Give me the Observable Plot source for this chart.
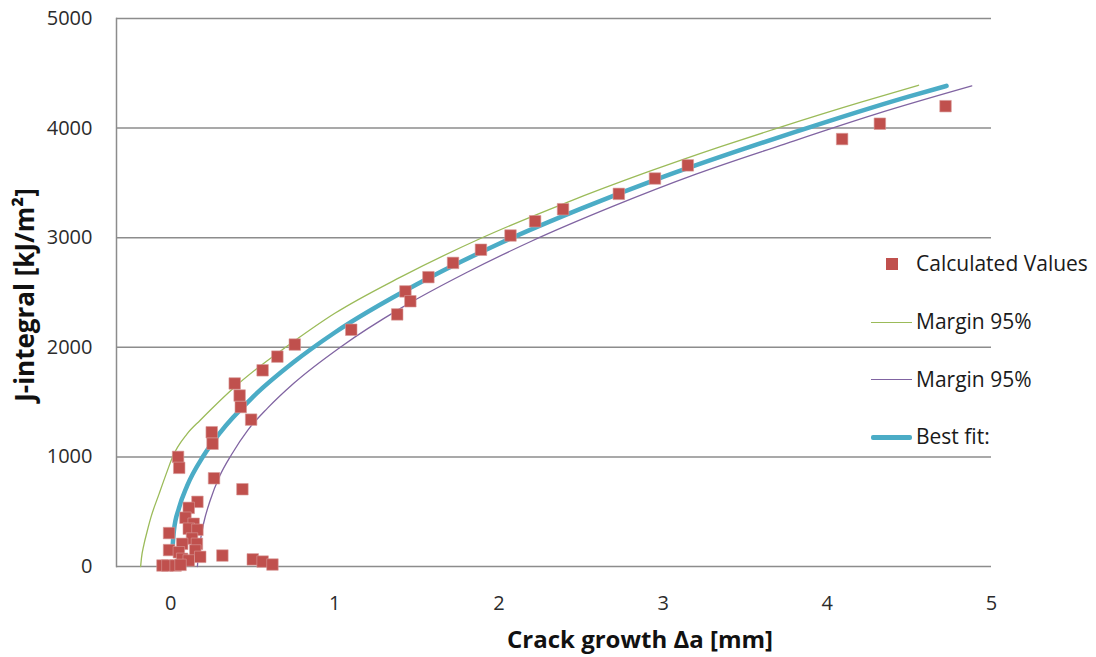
<!DOCTYPE html>
<html><head><meta charset="utf-8">
<script src="https://cdn.jsdelivr.net/npm/d3@7"></script>
<script src="https://cdn.jsdelivr.net/npm/@observablehq/plot@0.6"></script>
<style>
body{margin:0;background:#fff;font-family:"Open Sans",sans-serif;}
#wrap{position:relative;width:1096px;height:657px;overflow:hidden;}
.abs{position:absolute;white-space:nowrap;}
.lg{font-size:21px;color:#1a1a1a;line-height:1;}
.ttl{font-weight:bold;color:#111;line-height:1;}
</style></head><body><div id="wrap"></div>
<script>
// Calculated values (crack growth Δa [mm], J-integral [kJ/m²])
const calcDa = [4.72, 4.32, 4.09, 3.15, 2.95, 2.73, 2.39, 2.22, 2.07, 1.89, 1.72, 1.57, 1.43, 1.46, 1.38, 1.10,
  0.756, 0.65, 0.56, 0.39, 0.42, 0.427, 0.49, 0.25, 0.255, 0.045, 0.052, 0.264, 0.437, 0.163, 0.11, 0.09,
  0.14, 0.11, 0.163, -0.01, 0.13, 0.07, 0.16, 0.15, -0.01, 0.05, 0.315, 0.18, 0.07, 0.11, -0.05, -0.02,
  0.03, 0.06, 0.5, 0.56, 0.62];
const calcJ = [4200, 4040, 3900, 3660, 3540, 3400, 3260, 3150, 3020, 2890, 2770, 2640, 2510, 2420, 2300, 2160,
  2025, 1915, 1790, 1670, 1560, 1455, 1340, 1225, 1120, 1000, 900, 805, 705, 590, 535, 445,
  390, 345, 335, 305, 255, 207, 207, 146, 150, 130, 100, 88, 70, 55, 9, 9,
  9, 15, 65, 45, 18];

// Margin 95% (upper, green)
const greenDa = [-0.183, -0.178, -0.163, -0.145, -0.12, -0.07, -0.02, 0.01, 0.1, 0.18, 0.25, 0.38, 0.52, 0.7, 1.0, 1.4, 1.89, 2.4, 2.91, 3.35, 3.72, 4.2, 4.556];
const greenJ  = [0, 76, 200, 310, 450, 665, 875, 995, 1210, 1335, 1440, 1625, 1800, 2000, 2310, 2640, 2995, 3314, 3602, 3831, 4012, 4235, 4391];

// Margin 95% (lower, purple)
const purpleDa = [0.163, 0.168, 0.18, 0.2, 0.24, 0.3, 0.37, 0.47, 0.59, 0.75, 1.04, 1.4, 1.8, 2.2, 2.7, 3.2, 3.72, 4.3, 4.88];
const purpleJ  = [0, 110, 230, 390, 600, 830, 1020, 1245, 1445, 1672, 2008, 2355, 2680, 2970, 3290, 3580, 3845, 4130, 4385];

// Best fit (blue)
const fitDa = [0.012, 0.02, 0.05, 0.1, 0.2, 0.3, 0.5, 0.75, 1, 1.5, 2, 2.5, 3, 3.5, 4, 4.5, 4.726];
const fitJ  = [190, 330, 530, 735, 1010, 1220, 1545, 1865, 2135, 2575, 2945, 3265, 3555, 3815, 4060, 4290, 4385];

const xTicks = [0, 1, 2, 3, 4, 5];
const yTicks = [0, 1000, 2000, 3000, 4000, 5000];
const xDomain = [-0.33, 5];
const yDomain = [0, 5000];

const zip = (xs, ys) => xs.map((x, i) => ({x, y: ys[i]}));
const calc = zip(calcDa, calcJ);
const green = zip(greenDa, greenJ);
const purple = zip(purpleDa, purpleJ);
const fit = zip(fitDa, fitJ);

const plot = Plot.plot({
  width: 1096, height: 657,
  marginLeft: 116, marginRight: 105, marginTop: 18, marginBottom: 91,
  x: {domain: xDomain},
  y: {domain: yDomain},
  style: {fontFamily: "Open Sans", fontSize: "20px", color: "#2b2b2b", background: "transparent"},
  marks: [
    Plot.ruleY(yTicks, {stroke: "#8c8c8c", strokeWidth: 1.5}),
    Plot.frame({anchor: "left", stroke: "#8c8c8c", strokeWidth: 1.5}),
    Plot.axisY({ticks: yTicks, tickSize: 0, tickPadding: 24, tickFormat: d3.format("d"), label: null, fontSize: 20}),
    Plot.axisX({ticks: xTicks, tickSize: 0, tickPadding: 29, tickFormat: d3.format("d"), label: null, fontSize: 20}),
    Plot.line(green, {x: "x", y: "y", stroke: "#9BBB59", strokeWidth: 1.3, curve: "monotone-x"}),
    Plot.line(purple, {x: "x", y: "y", stroke: "#8064A2", strokeWidth: 1.3, curve: "monotone-x"}),
    Plot.line(fit, {x: "x", y: "y", stroke: "#4BACC6", strokeWidth: 4.5, strokeLinecap: "round", curve: "monotone-x"}),
    Plot.dot(calc, {x: "x", y: "y", symbol: "square", r: 6.5, fill: "#C0504D", stroke: "#D99A98", strokeWidth: 0.6})
  ]
});

const wrap = document.getElementById("wrap");
wrap.appendChild(plot);

function add(html, style, cls) {
  const d = document.createElement("div");
  d.className = "abs " + (cls || "");
  d.innerHTML = html;
  Object.assign(d.style, style);
  wrap.appendChild(d);
  return d;
}
// axis titles
add("J-integral [kJ/m²]", {left: "24px", top: "295px", fontSize: "26px", transform: "translate(-50%,-50%) rotate(-90deg)"}, "ttl");
add("Crack growth Δa [mm]", {left: "640px", top: "627px", fontSize: "24px", transform: "translateX(-50%)"}, "ttl");

// legend
add("", {left: "886px", top: "258px", width: "12px", height: "12px", background: "#C0504D"});
add("Calculated Values", {left: "916px", top: "253px"}, "lg");
add("", {left: "871px", top: "322px", width: "41px", height: "1.3px", background: "#9BBB59"});
add("Margin 95%", {left: "916px", top: "311px"}, "lg");
add("", {left: "871px", top: "379px", width: "41px", height: "1.3px", background: "#8064A2"});
add("Margin 95%", {left: "916px", top: "369px"}, "lg");
add("", {left: "871px", top: "435px", width: "41px", height: "4.5px", background: "#4BACC6", borderRadius: "2px"});
add("Best fit:", {left: "916px", top: "426px"}, "lg");
</script>
</body></html>
